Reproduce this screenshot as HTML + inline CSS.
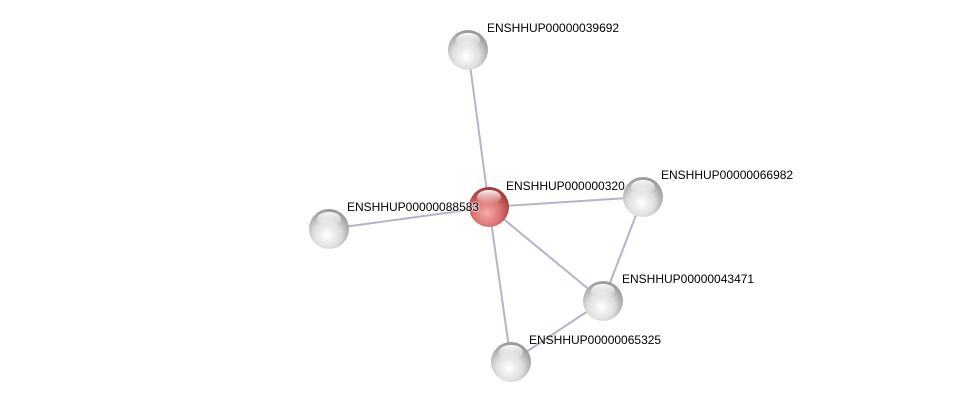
<!DOCTYPE html>
<html><head><style>
html,body{margin:0;padding:0;background:#fff;width:976px;height:407px;overflow:hidden}
svg text{font-family:"Liberation Sans",sans-serif;font-size:12px;fill:#000}
</style></head><body>
<svg width="976" height="407" viewBox="0 0 976 407">
<defs>
<radialGradient id="g" cx="0.45" cy="0.65" r="0.62">
<stop offset="0" stop-color="#ffffff"/><stop offset="0.55" stop-color="#dedede"/><stop offset="1" stop-color="#9a9a9a"/>
</radialGradient>
<radialGradient id="r" cx="0.45" cy="0.65" r="0.62">
<stop offset="0" stop-color="#f5aaaa"/><stop offset="0.55" stop-color="#dc7272"/><stop offset="1" stop-color="#a03a3a"/>
</radialGradient>
<linearGradient id="h" x1="0" y1="0" x2="0" y2="1">
<stop offset="0" stop-color="#fff" stop-opacity="0.95"/><stop offset="1" stop-color="#fff" stop-opacity="0"/>
</linearGradient>
</defs>
<g stroke="#b4b4c8" stroke-width="2">
<line x1="468" y1="50" x2="489" y2="207"/>
<line x1="329" y1="229" x2="489" y2="207"/>
<line x1="643" y1="197" x2="489" y2="207"/>
<line x1="603" y1="301" x2="489" y2="207"/>
<line x1="511" y1="362" x2="489" y2="207"/>
<line x1="643" y1="197" x2="603" y2="301"/>
<line x1="511" y1="362" x2="603" y2="301"/>
</g>
<g>
<circle cx="468" cy="50" r="20" fill="url(#g)"/><ellipse cx="468" cy="40" rx="12" ry="7" fill="url(#h)"/>
<circle cx="329" cy="229" r="20" fill="url(#g)"/><ellipse cx="329" cy="219" rx="12" ry="7" fill="url(#h)"/>
<circle cx="603" cy="301" r="20" fill="url(#g)"/><ellipse cx="603" cy="291" rx="12" ry="7" fill="url(#h)"/>
<circle cx="511" cy="362" r="20" fill="url(#g)"/><ellipse cx="511" cy="352" rx="12" ry="7" fill="url(#h)"/>
</g>
<text x="487" y="32">ENSHHUP00000039692</text>
<text x="661" y="179">ENSHHUP00000066982</text>
<text x="622" y="283">ENSHHUP00000043471</text>
<text x="529" y="344">ENSHHUP00000065325</text>
<text x="506" y="190">ENSHHUP000000320</text>
<circle cx="643" cy="197" r="20" fill="url(#g)"/><ellipse cx="643" cy="187" rx="12" ry="7" fill="url(#h)"/>
<circle cx="489" cy="207" r="20" fill="url(#r)"/><ellipse cx="489" cy="197" rx="12" ry="7" fill="url(#h)"/>
<text x="347" y="211" stroke="#fff" stroke-width="2" stroke-opacity="0.6" paint-order="stroke">ENSHHUP00000088583</text>
</svg>
</body></html>
